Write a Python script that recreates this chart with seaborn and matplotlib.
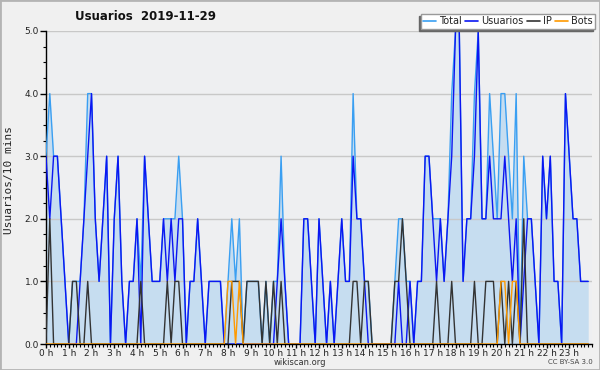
import numpy as np
import pandas as pd
import matplotlib
matplotlib.use("Agg")
import matplotlib.pyplot as plt
import seaborn as sns
from matplotlib.lines import Line2D
from matplotlib.patches import Rectangle
from matplotlib.ticker import MultipleLocator

# Counts per 10-minute slot (6 slots per hour, 0 h .. 23 h)
total = [
    3, 4, 3, 3, 2, 1,   0, 1, 1, 1, 2, 4,   4, 2, 1, 2, 3, 0,   2, 3, 1, 0, 1, 1,
    2, 1, 3, 2, 1, 1,   1, 2, 2, 2, 2, 3,   2, 0, 1, 1, 2, 1,   0, 1, 1, 1, 1, 0,
    1, 2, 1, 2, 0, 1,   1, 1, 1, 0, 1, 0,   1, 1, 3, 1, 0, 0,   0, 0, 2, 2, 1, 0,
    2, 1, 0, 1, 0, 1,   2, 1, 1, 4, 2, 2,   1, 1, 0, 0, 0, 0,   0, 0, 1, 2, 2, 1,
    1, 0, 1, 1, 3, 3,   2, 2, 2, 1, 2, 4,   5, 5, 1, 2, 2, 4,   5, 2, 2, 4, 3, 2,
    4, 4, 3, 2, 4, 0,   3, 2, 2, 1, 0, 3,   2, 3, 1, 1, 0, 4,   3, 2, 2, 1, 1, 1,
]
usuarios = [
    3, 2, 3, 3, 2, 1,   0, 0, 0, 1, 2, 3,   4, 2, 1, 2, 3, 0,   2, 3, 1, 0, 1, 1,
    2, 0, 3, 2, 1, 1,   1, 2, 1, 2, 1, 2,   2, 0, 1, 1, 2, 1,   0, 1, 1, 1, 1, 0,
    0, 0, 0, 0, 0, 0,   0, 0, 0, 0, 0, 0,   0, 1, 2, 1, 0, 0,   0, 0, 2, 2, 1, 0,
    2, 1, 0, 1, 0, 1,   2, 1, 1, 3, 2, 2,   1, 0, 0, 0, 0, 0,   0, 0, 0, 1, 0, 0,
    1, 0, 1, 1, 3, 3,   2, 1, 2, 1, 2, 3,   5, 5, 1, 2, 2, 3,   5, 2, 2, 3, 2, 2,
    2, 3, 2, 1, 2, 0,   1, 2, 2, 1, 0, 3,   2, 3, 1, 1, 0, 4,   3, 2, 2, 1, 1, 1,
]
ip = [
    0, 2, 0, 0, 0, 0,   0, 1, 1, 0, 0, 1,   0, 0, 0, 0, 0, 0,   0, 0, 0, 0, 0, 0,
    0, 1, 0, 0, 0, 0,   0, 0, 1, 0, 1, 1,   0, 0, 0, 0, 0, 0,   0, 0, 0, 0, 0, 0,
    0, 1, 1, 1, 0, 1,   1, 1, 1, 0, 1, 0,   1, 0, 1, 0, 0, 0,   0, 0, 0, 0, 0, 0,
    0, 0, 0, 0, 0, 0,   0, 0, 0, 1, 1, 0,   1, 1, 0, 0, 0, 0,   0, 0, 1, 1, 2, 1,
    0, 0, 0, 0, 0, 0,   0, 1, 0, 0, 0, 1,   0, 0, 0, 0, 0, 1,   0, 0, 1, 1, 1, 0,
    1, 0, 1, 0, 1, 0,   2, 0, 0, 0, 0, 0,   0, 0, 0, 0, 0, 0,   0, 0, 0, 0, 0, 0,
]
bots = [
    0, 0, 0, 0, 0, 0,   0, 0, 0, 0, 0, 0,   0, 0, 0, 0, 0, 0,   0, 0, 0, 0, 0, 0,
    0, 0, 0, 0, 0, 0,   0, 0, 0, 0, 0, 0,   0, 0, 0, 0, 0, 0,   0, 0, 0, 0, 0, 0,
    1, 1, 0, 1, 0, 0,   0, 0, 0, 0, 0, 0,   0, 0, 0, 0, 0, 0,   0, 0, 0, 0, 0, 0,
    0, 0, 0, 0, 0, 0,   0, 0, 0, 0, 0, 0,   0, 0, 0, 0, 0, 0,   0, 0, 0, 0, 0, 0,
    0, 0, 0, 0, 0, 0,   0, 0, 0, 0, 0, 0,   0, 0, 0, 0, 0, 0,   0, 0, 0, 0, 0, 0,
    1, 1, 0, 1, 1, 0,   0, 0, 0, 0, 0, 0,   0, 0, 0, 0, 0, 0,   0, 0, 0, 0, 0, 0,
]
hour_labels = [f"{h} h" for h in range(24)]
series_names = ["Total", "Usuarios", "IP", "Bots"]
series_colors = ["#3a9ff2", "#0b16f2", "#333333", "#ff9a00"]

slots = np.arange(len(total)) / 6.0  # hours
df = pd.DataFrame({
    "hora": np.tile(slots, 4),
    "valor": total + usuarios + ip + bots,
    "serie": np.repeat(series_names, len(total)),
})

sns.set_style("ticks")
plt.rcParams["font.family"] = ["DejaVu Sans"]

fig = plt.figure(figsize=(6, 3.7), dpi=100, facecolor="#f0f0f0")
ax = fig.add_axes([46 / 600, 26 / 370, 546 / 600, 313 / 370])
ax.set_facecolor("#eeeff1")

# light fill under the total
ax.fill_between(slots, total, color="#c6ddf0", lw=0, zorder=1)
sns.lineplot(data=df, x="hora", y="valor", hue="serie", hue_order=series_names,
             palette=dict(zip(series_names, series_colors)), estimator=None,
             linewidth=1.0, legend=False, ax=ax, zorder=3)

ax.set_xlim(0, 24)
ax.set_ylim(0, 5)
ax.set_axisbelow("line")
ax.yaxis.grid(True, color="#c8c8c8", linewidth=1)
ax.xaxis.grid(False)

ax.set_xticks(range(24))
ax.set_xticklabels(hour_labels)
ax.xaxis.set_minor_locator(MultipleLocator(1 / 6))
ax.set_yticks(range(6))
ax.set_yticklabels([f"{v:.1f}" for v in range(6)])
ax.yaxis.set_minor_locator(MultipleLocator(0.25))
ax.tick_params(axis="y", which="major", labelsize=6.5, length=4, width=1,
               color="black", pad=1, labelcolor="#222222")
ax.tick_params(axis="x", which="major", labelsize=6.5, length=3, width=1,
               color="black", pad=0.5, labelcolor="#222222")
ax.tick_params(axis="both", which="minor", length=2.2, width=0.8, color="black")
ax.set_xlabel("")
ax.set_ylabel("")
for side in ["top", "right"]:
    ax.spines[side].set_visible(False)
for side in ["left", "bottom"]:
    ax.spines[side].set_color("black")
    ax.spines[side].set_linewidth(1)

fig.text(0.242, 1 - 17 / 370, "Usuarios  2019-11-29", ha="center", va="center",
         fontsize=8.5, fontweight="bold", color="#111111")
fig.text(9 / 600, 1 - 180 / 370, "Usuarios/10 mins", rotation=90, ha="center",
         va="center", fontsize=8, family=["DejaVu Sans Mono"], color="#222222")
fig.text(0.5, 1 - 362.5 / 370, "wikiscan.org", ha="center", va="center",
         fontsize=6, color="#333333")
fig.text(593 / 600, 1 - 362.5 / 370, "CC BY-SA 3.0", ha="right", va="center",
         fontsize=5, color="#444444")

handles = [Line2D([], [], color=c, linewidth=1.2) for c in series_colors]
leg = ax.legend(handles, series_names, loc="upper right",
                bbox_to_anchor=(595 / 600, 1 - 14 / 370), bbox_transform=fig.transFigure,
                ncol=4, fontsize=7, handlelength=1.3, handletextpad=0.3,
                columnspacing=0.4, borderpad=0.25, borderaxespad=0, frameon=True,
                fancybox=False, shadow={"ox": -1.5, "oy": -1.5, "shade": 0.6, "alpha": 1})
leg.get_frame().set_facecolor("white")
leg.get_frame().set_edgecolor("#999999")
leg.get_frame().set_alpha(1)
for t in leg.get_texts():
    t.set_color("#222222")

fig.patches.append(Rectangle((0, 0), 1, 1, transform=fig.transFigure, fill=False,
                             edgecolor="#b4b4b4", linewidth=2))

fig.savefig("out.png", dpi=100, facecolor=fig.get_facecolor())
